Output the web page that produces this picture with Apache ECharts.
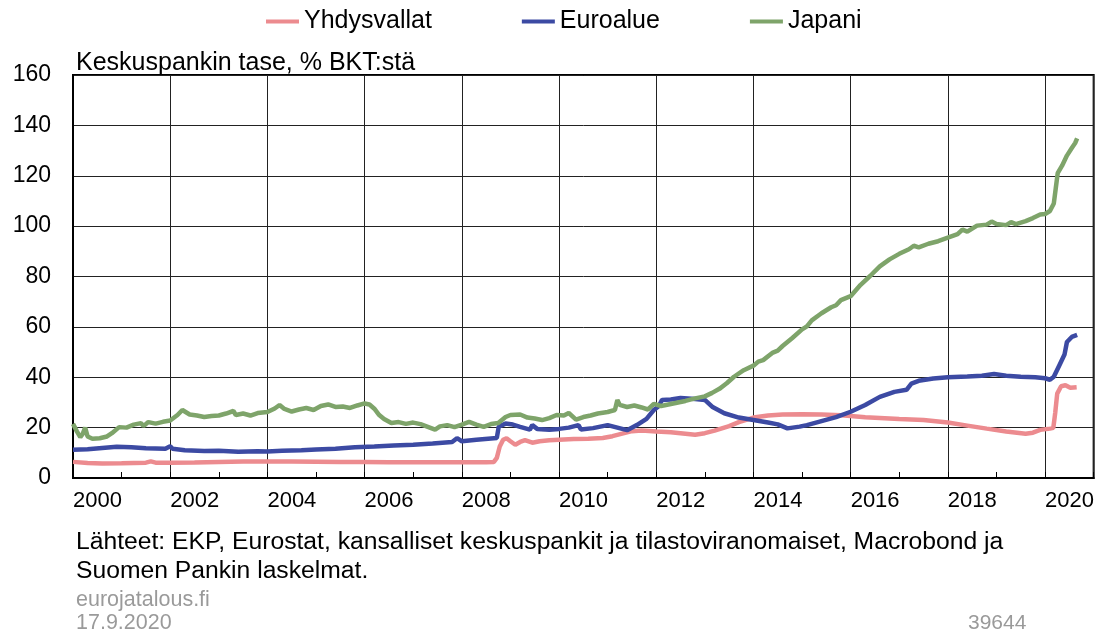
<!DOCTYPE html>
<html>
<head>
<meta charset="utf-8">
<script src="https://cdn.jsdelivr.net/npm/echarts@6/dist/echarts.min.js"></script>
<style>
  html, body { margin: 0; padding: 0; background: #fff; }
  #chart { width: 1097px; height: 633px; }
</style>
</head>
<body>
<div id="chart"></div>
<script>
// balance sheet of central bank, % of GDP; [decimal year, value]
const seriesNames = ['Yhdysvallat', 'Euroalue', 'Japani']

const usData = [
  [2000.0, 6.4], [2000.3, 6.0], [2000.6, 5.8], [2001.0, 5.9], [2001.5, 6.1], [2001.6, 6.6], [2001.7, 6.1],
  [2002.0, 6.1], [2002.5, 6.2], [2003.0, 6.4], [2003.5, 6.6], [2004.0, 6.6], [2004.5, 6.6], [2005.0, 6.5],
  [2005.5, 6.4], [2006.0, 6.4], [2006.5, 6.3], [2007.0, 6.3], [2007.5, 6.3], [2008.0, 6.3], [2008.5, 6.3],
  [2008.66, 6.4], [2008.72, 8.0], [2008.78, 12.5], [2008.85, 15.2], [2008.92, 15.8], [2009.0, 14.6],
  [2009.1, 13.2], [2009.2, 14.3], [2009.3, 15.0], [2009.45, 14.0], [2009.6, 14.6], [2009.8, 15.0],
  [2010.0, 15.2], [2010.3, 15.5], [2010.6, 15.6], [2010.9, 15.9], [2011.1, 16.6], [2011.3, 17.6],
  [2011.5, 18.6], [2011.7, 18.9], [2012.0, 18.5], [2012.3, 18.2], [2012.6, 17.6], [2012.8, 17.2],
  [2013.0, 17.8], [2013.2, 18.8], [2013.5, 20.6], [2013.7, 22.2], [2014.0, 24.0], [2014.3, 24.8],
  [2014.6, 25.2], [2015.0, 25.3], [2015.4, 25.2], [2015.8, 24.9], [2016.0, 24.6], [2016.3, 24.1],
  [2016.6, 23.8], [2017.0, 23.4], [2017.5, 23.0], [2018.0, 22.0], [2018.4, 20.8], [2018.8, 19.6],
  [2019.2, 18.5], [2019.6, 17.6], [2019.75, 18.0], [2019.9, 19.1], [2020.1, 19.6], [2020.17, 19.9],
  [2020.21, 26.0], [2020.25, 33.5], [2020.33, 36.4], [2020.42, 36.8], [2020.52, 35.8], [2020.65, 36.0]
]

const euroData = [
  [2000.0, 11.2], [2000.3, 11.4], [2000.6, 11.9], [2000.9, 12.4], [2001.2, 12.2], [2001.5, 11.8],
  [2001.9, 11.6], [2002.0, 12.6], [2002.05, 11.6], [2002.3, 11.0], [2002.7, 10.7], [2003.0, 10.8],
  [2003.4, 10.4], [2003.8, 10.6], [2004.0, 10.5], [2004.3, 10.8], [2004.7, 11.0], [2005.0, 11.3],
  [2005.4, 11.6], [2005.8, 12.2], [2006.2, 12.5], [2006.6, 12.9], [2007.0, 13.2], [2007.4, 13.7],
  [2007.8, 14.3], [2007.9, 15.8], [2008.0, 14.6], [2008.3, 15.2], [2008.6, 15.7], [2008.72, 15.9],
  [2008.76, 20.4], [2008.9, 21.6], [2009.05, 21.2], [2009.2, 20.3], [2009.4, 19.2], [2009.45, 21.0],
  [2009.55, 19.5], [2009.8, 19.2], [2010.0, 19.5], [2010.2, 20.0], [2010.4, 21.0], [2010.45, 19.3],
  [2010.7, 19.8], [2011.0, 21.0], [2011.2, 20.0], [2011.4, 19.0], [2011.6, 21.0], [2011.8, 23.5],
  [2011.95, 27.0], [2012.05, 28.5], [2012.12, 31.0], [2012.3, 31.2], [2012.5, 31.8], [2012.8, 31.4],
  [2013.0, 31.0], [2013.15, 28.3], [2013.4, 25.7], [2013.7, 24.0], [2014.0, 23.0], [2014.3, 22.0],
  [2014.5, 21.3], [2014.7, 19.7], [2014.95, 20.4], [2015.1, 21.0], [2015.4, 22.6], [2015.7, 24.2],
  [2016.0, 26.3], [2016.3, 29.0], [2016.6, 32.2], [2016.9, 34.2], [2017.15, 35.0], [2017.25, 37.5],
  [2017.4, 38.6], [2017.7, 39.5], [2018.0, 40.0], [2018.4, 40.3], [2018.7, 40.6], [2018.95, 41.3],
  [2019.2, 40.6], [2019.5, 40.2], [2019.8, 40.0], [2020.0, 39.6], [2020.1, 39.0], [2020.18, 40.2],
  [2020.3, 45.0], [2020.4, 49.0], [2020.45, 54.0], [2020.55, 56.0], [2020.66, 56.8]
]

const japanData = [
  [2000.0, 21.5], [2000.08, 18.5], [2000.15, 16.2], [2000.2, 17.5], [2000.25, 20.0], [2000.3, 16.5],
  [2000.4, 15.6], [2000.55, 15.8], [2000.7, 16.5], [2000.8, 17.8], [2000.95, 20.2], [2001.1, 20.0],
  [2001.25, 21.2], [2001.4, 21.8], [2001.45, 20.6], [2001.55, 22.2], [2001.7, 21.6], [2001.85, 22.3],
  [2002.0, 22.8], [2002.15, 25.0], [2002.25, 27.0], [2002.4, 25.2], [2002.55, 24.8], [2002.7, 24.2],
  [2002.85, 24.6], [2003.0, 24.8], [2003.15, 25.6], [2003.3, 26.6], [2003.35, 25.0], [2003.5, 25.6],
  [2003.65, 24.8], [2003.8, 25.8], [2004.0, 26.2], [2004.15, 27.6], [2004.25, 29.0], [2004.35, 27.4],
  [2004.5, 26.4], [2004.65, 27.2], [2004.8, 27.8], [2004.95, 27.0], [2005.1, 28.6], [2005.25, 29.2],
  [2005.4, 28.2], [2005.55, 28.4], [2005.7, 27.8], [2005.85, 28.8], [2006.0, 29.6], [2006.1, 29.2],
  [2006.2, 27.5], [2006.3, 25.0], [2006.4, 23.4], [2006.55, 21.8], [2006.7, 22.2], [2006.85, 21.5],
  [2007.0, 22.0], [2007.15, 21.4], [2007.3, 20.3], [2007.45, 19.2], [2007.55, 20.5], [2007.7, 21.0],
  [2007.85, 20.2], [2008.0, 21.2], [2008.15, 22.3], [2008.3, 21.2], [2008.45, 20.3], [2008.6, 21.4],
  [2008.75, 21.8], [2008.9, 24.2], [2009.0, 25.0], [2009.2, 25.2], [2009.35, 24.0], [2009.5, 23.6],
  [2009.65, 23.0], [2009.8, 23.8], [2009.95, 25.0], [2010.1, 24.8], [2010.2, 25.8], [2010.35, 23.2],
  [2010.5, 24.2], [2010.65, 24.8], [2010.8, 25.6], [2011.0, 26.2], [2011.15, 27.0], [2011.2, 31.0],
  [2011.25, 29.0], [2011.4, 28.2], [2011.55, 28.8], [2011.7, 28.0], [2011.83, 27.2], [2011.95, 29.4],
  [2012.1, 28.6], [2012.35, 29.6], [2012.6, 30.6], [2012.8, 31.6], [2013.0, 32.4], [2013.15, 33.8],
  [2013.3, 35.4], [2013.45, 37.6], [2013.6, 40.2], [2013.8, 42.8], [2014.0, 44.6], [2014.1, 46.2],
  [2014.2, 46.8], [2014.4, 49.8], [2014.5, 50.6], [2014.6, 52.4], [2014.8, 55.6], [2015.0, 59.0],
  [2015.1, 60.2], [2015.2, 62.6], [2015.4, 65.4], [2015.6, 67.8], [2015.7, 68.6], [2015.8, 70.6],
  [2016.0, 72.2], [2016.2, 76.6], [2016.4, 80.2], [2016.6, 84.0], [2016.8, 86.8], [2017.0, 89.0],
  [2017.2, 90.8], [2017.3, 92.2], [2017.4, 91.6], [2017.6, 93.0], [2017.8, 94.0], [2018.0, 95.4],
  [2018.2, 96.8], [2018.3, 98.6], [2018.4, 97.8], [2018.6, 100.2], [2018.8, 100.6], [2018.9, 101.8],
  [2019.0, 100.8], [2019.2, 100.4], [2019.3, 101.6], [2019.4, 100.8], [2019.6, 102.0], [2019.75, 103.2],
  [2019.9, 104.6], [2020.0, 104.8], [2020.1, 106.0], [2020.18, 109.0], [2020.22, 115.0], [2020.26, 121.0],
  [2020.35, 124.0], [2020.45, 128.0], [2020.55, 131.0], [2020.62, 133.0], [2020.66, 134.8]
]

const colors = ['#ec8b8f', '#3c4aa3', '#7ea46a']
const font = "'Liberation Sans', Arial, sans-serif"

const chart = echarts.init(document.getElementById('chart'))

chart.setOption({
  animation: false,
  color: colors,
  textStyle: { fontFamily: font },
  title: [
    {
      text: 'Keskuspankin tase, % BKT:stä',
      left: 71, top: 46,
      textStyle: { fontSize: 25, fontWeight: 'normal', color: '#000', fontFamily: font }
    },
    {
      text: 'Lähteet: EKP, Eurostat, kansalliset keskuspankit ja tilastoviranomaiset, Macrobond ja\nSuomen Pankin laskelmat.',
      left: 71, top: 523,
      textStyle: { fontSize: 24.7, lineHeight: 29, fontWeight: 'normal', color: '#000', fontFamily: font }
    },
    {
      text: 'eurojatalous.fi\n17.9.2020',
      left: 71, top: 584,
      textStyle: { fontSize: 21.5, lineHeight: 23, fontWeight: 'normal', color: '#9a9a9a', fontFamily: font }
    },
    {
      text: '39644',
      left: 963, top: 608,
      textStyle: { fontSize: 21, fontWeight: 'normal', color: '#9a9a9a', fontFamily: font }
    }
  ],
  legend: {
    data: seriesNames,
    left: 261, top: 4,
    icon: 'rect',
    itemWidth: 33, itemHeight: 4,
    itemGap: 90,
    textStyle: { fontSize: 25, color: '#000', fontFamily: font }
  },
  grid: {
    left: 73, right: 2, top: 75, bottom: 155,
    show: true, borderColor: '#000', borderWidth: 2,
    containLabel: false
  },
  xAxis: [
    {
      type: 'value', min: 2000, max: 2021, interval: 1,
      axisLine: { show: true, lineStyle: { color: '#000', width: 2 } },
      axisTick: { show: true, inside: true, length: 6, lineStyle: { color: '#000' } },
      axisLabel: { show: false },
      splitLine: { show: false }
    },
    {
      type: 'value', min: 2000, max: 2021, interval: 2, position: 'bottom',
      axisLine: { show: false },
      axisTick: { show: false },
      axisLabel: {
        align: 'left', margin: 12, fontSize: 22, color: '#000', showMaxLabel: false,
        formatter: v => String(v)
      },
      splitLine: { show: true, lineStyle: { color: '#222', width: 1 } }
    }
  ],
  yAxis: {
    type: 'value', min: 0, max: 160, interval: 20,
    axisLine: { show: true, lineStyle: { color: '#000', width: 2 } },
    axisTick: { show: false },
    axisLabel: { fontSize: 23, color: '#000', margin: 22 },
    splitLine: { show: true, lineStyle: { color: '#222', width: 1 } }
  },
  series: [usData, euroData, japanData].map((data, i) => ({
    name: seriesNames[i],
    type: 'line',
    xAxisIndex: 0,
    data: data,
    showSymbol: false,
    lineStyle: { width: 4.5, color: colors[i] },
    itemStyle: { color: colors[i] }
  }))
})
</script>
</body>
</html>
